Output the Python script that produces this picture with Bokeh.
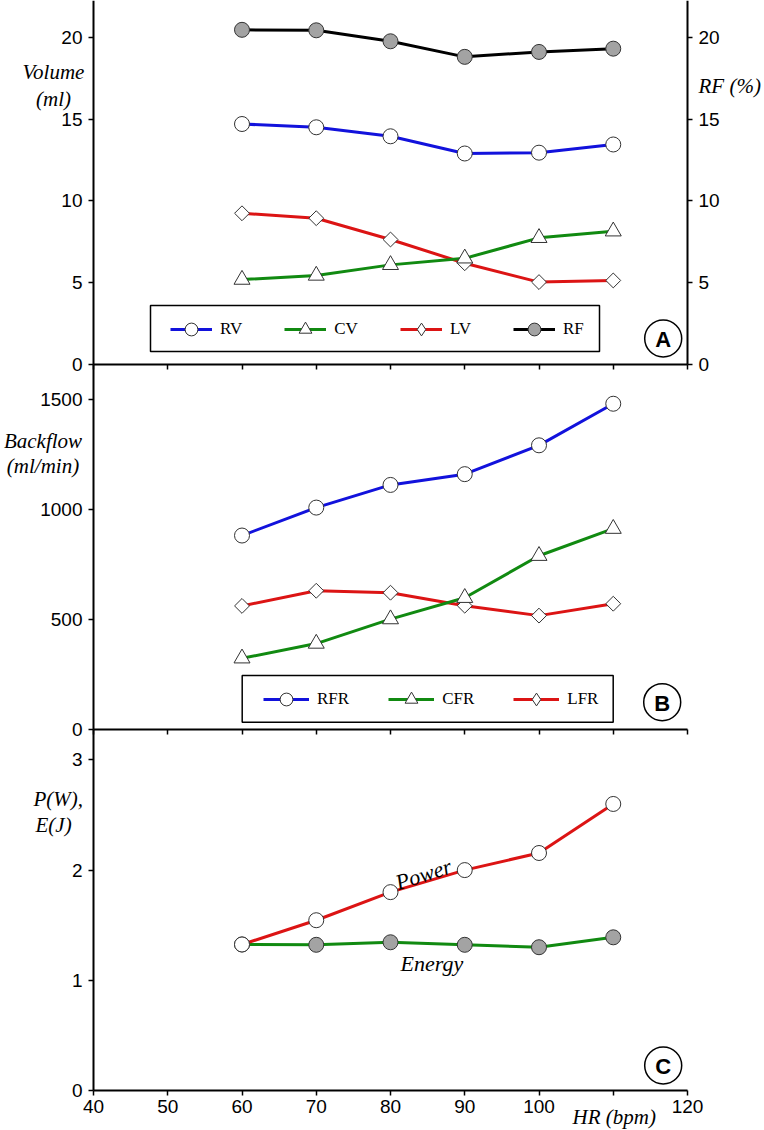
import math
from bokeh.plotting import figure
from bokeh.models import (Range1d, LinearAxis, Legend, LegendItem, Label,
                          FixedTicker, BoxAnnotation)
from bokeh.embed import file_html
from bokeh.resources import INLINE

# ---------------- data ----------------
hr = [60, 70, 80, 90, 100, 110]

rv = [14.7, 14.5, 13.95, 12.9, 12.95, 13.45]
cv = [5.2, 5.45, 6.1, 6.5, 7.75, 8.15]
lv = [9.25, 8.95, 7.65, 6.2, 5.05, 5.15]
rf = [20.45, 20.42, 19.75, 18.8, 19.1, 19.3]

rfr = [883, 1010, 1113, 1162, 1293, 1482]
cfr = [325, 392, 503, 600, 791, 914]
lfr = [563, 632, 623, 564, 519, 573]

power = [1.325, 1.545, 1.80, 2.0, 2.155, 2.60]
energy = [1.325, 1.322, 1.345, 1.322, 1.30, 1.39]

x_ticks = [40, 50, 60, 70, 80, 90, 100, 110, 120]
x_label_overrides = {110: ""}
vol_ticks = [0, 5, 10, 15, 20]
flow_ticks = [0, 500, 1000, 1500]
pe_ticks = [0, 1, 2, 3]

# ---------------- layout / style ----------------
W, H = 764, 1130
FRAME_L, FRAME_R = 93, 687          # pixel columns of the 40 / 120 axes
PPU = (FRAME_R - FRAME_L) / 80.0

# panel bands: (top px, bottom px, top value of the panel)
BANDS = {"A": (0.0, 364.3, 22.24),
         "B": (364.3, 729.3, 1659.0),
         "C": (729.3, 1090.0, 3.273)}

SANS = "Liberation Sans"
SERIF = "Liberation Serif"
TICK_FS = "19px"
TITLE_FS = "21px"

BLUE = "#1212dc"
GREEN = "#118a11"
RED = "#dc1414"
BLACK = "#000000"
GREY = "#a3a3a3"
EDGE = "#333333"


def band_range(name):
    t, b, e = BANDS[name]
    upp = e / (b - t)
    return Range1d(-(H - b) * upp, e + t * upp)


def px_to_val(name, py):
    t, b, e = BANDS[name]
    return (b - py) * e / (b - t)


def px_to_x(px):
    return 40 + (px - FRAME_L) / PPU


p = figure(width=W, height=H,
           x_range=Range1d(px_to_x(0), px_to_x(W)),
           y_range=band_range("C"),
           output_backend="svg", toolbar_location=None,
           x_axis_location=None, y_axis_location=None,
           min_border_left=0, min_border_right=0,
           min_border_top=0, min_border_bottom=0,
           outline_line_color=None, background_fill_color="white",
           border_fill_color="white")
p.extra_y_ranges = {"A": band_range("A"), "B": band_range("B")}
p.grid.visible = False

RN = {"A": "A", "B": "B", "C": "default"}


def add_axis(side, ticks, panel, loc, bounds, labels=True, overrides=None):
    ax = LinearAxis(ticker=FixedTicker(ticks=ticks, minor_ticks=[]),
                    fixed_location=loc, bounds=bounds, y_range_name=RN[panel])
    ax.axis_line_width = 2
    ax.axis_line_color = "black"
    ax.major_tick_line_width = 1.5
    ax.major_tick_line_color = "black"
    ax.major_tick_out = 5
    ax.major_tick_in = 0
    ax.minor_tick_line_color = None
    ax.major_label_text_font = SANS
    ax.major_label_text_font_size = TICK_FS
    ax.major_label_text_color = "black" if labels else None
    ax.major_label_standoff = 6 if side in ("left", "right") else 4
    if overrides:
        ax.major_label_overrides = overrides
    p.add_layout(ax, side)


# y axes
add_axis("left", vol_ticks, "A", 40, (0, BANDS["A"][2]))
add_axis("right", vol_ticks, "A", 120, (0, BANDS["A"][2]))
add_axis("left", flow_ticks, "B", 40, (0, BANDS["B"][2]))
add_axis("left", pe_ticks, "C", 40, (0, BANDS["C"][2]))
# x axes (panel separators + bottom axis)
add_axis("below", x_ticks, "A", 0, (40, 120), labels=False)
add_axis("below", x_ticks, "B", 0, (40, 120), labels=False)
add_axis("below", x_ticks, "C", 0, (40, 120), overrides=x_label_overrides)


def series_line(ys, color, panel):
    return p.line(hr, ys, line_color=color, line_width=3, y_range_name=RN[panel])


def series_marks(ys, marker, fill, size, panel, angle=0.0, visible=True):
    return p.scatter(hr, ys, marker=marker, size=size, angle=angle,
                     fill_color=fill, line_color=EDGE, line_width=1,
                     y_range_name=RN[panel], visible=visible)


def legend_box(panel, l_px, r_px, t_px, b_px):
    p.add_layout(BoxAnnotation(left=px_to_x(l_px), right=px_to_x(r_px),
                               top=px_to_val(panel, t_px), bottom=px_to_val(panel, b_px),
                               y_range_name=RN[panel], fill_color="white", fill_alpha=1,
                               line_color="black", line_alpha=1, line_width=1.5,
                               level="annotation"))


def legend(items, loc, glyph_w, spacing):
    lg = Legend(items=items, orientation="horizontal", location=loc, margin=0,
                padding=0, glyph_width=glyph_w, glyph_height=32, label_standoff=8,
                label_width=20, spacing=spacing, label_text_font=SERIF,
                label_text_font_size="17px", label_text_color="black",
                border_line_color=None, background_fill_alpha=0)
    p.add_layout(lg)


def title(text, panel, x, x_offset, y, align, size=TITLE_FS, angle=0.0):
    p.add_layout(Label(x=x, y=y, x_offset=x_offset, text=text, text_align=align,
                       text_baseline="alphabetic", text_font=SERIF,
                       text_font_style="italic", text_font_size=size,
                       text_color="black", angle=angle, y_range_name=RN[panel]))


def badge(letter, panel, cx_px, cy_px):
    bx, by = px_to_x(cx_px), px_to_val(panel, cy_px)
    p.scatter([bx], [by], marker="circle", size=37, fill_color="white",
              line_color="black", line_width=1.5, y_range_name=RN[panel])
    p.add_layout(Label(x=bx, y=by, y_offset=-1, text=letter, text_align="center",
                       text_baseline="middle", text_font=SANS, text_font_style="bold",
                       text_font_size="22px", text_color="black",
                       y_range_name=RN[panel]))


# ---------------- panel A ----------------
lA_rf = series_line(rf, BLACK, "A")
lA_rv = series_line(rv, BLUE, "A")
lA_lv = series_line(lv, RED, "A")
lA_cv = series_line(cv, GREEN, "A")
mA_rf = series_marks(rf, "circle", GREY, 15, "A")
mA_rv = series_marks(rv, "circle", "white", 15, "A")
series_marks(lv, "square", "white", 10.5, "A", math.pi / 4)
mA_cv = series_marks(cv, "triangle", "white", 16, "A")
# legend key for the diamonds (legend keys are drawn unrotated)
kA_lv = series_marks(lv, "diamond", "white", 15, "A", visible=False)

legend_box("A", 150, 599, 305, 351)
legend([LegendItem(label="RV", renderers=[lA_rv, mA_rv]),
        LegendItem(label="CV", renderers=[lA_cv, mA_cv]),
        LegendItem(label="LV", renderers=[lA_lv, kA_lv]),
        LegendItem(label="RF", renderers=[lA_rf, mA_rf])],
       (170, H - 345), 42, 42)

title("Volume", "A", 40, -40, px_to_val("A", 71.7), "center")
title("(ml)", "A", 40, -40, px_to_val("A", 98.3), "center")
title("RF (%)", "A", 120, 11, px_to_val("A", 85), "left")
badge("A", "A", 662.7, 338)

# ---------------- panel B ----------------
lB_rfr = series_line(rfr, BLUE, "B")
lB_lfr = series_line(lfr, RED, "B")
lB_cfr = series_line(cfr, GREEN, "B")
mB_rfr = series_marks(rfr, "circle", "white", 15, "B")
series_marks(lfr, "square", "white", 10.5, "B", math.pi / 4)
mB_cfr = series_marks(cfr, "triangle", "white", 16, "B")
kB_lfr = series_marks(lfr, "diamond", "white", 15, "B", visible=False)

legend_box("B", 241.7, 612.7, 675, 721.7)
legend([LegendItem(label="RFR", renderers=[lB_rfr, mB_rfr]),
        LegendItem(label="CFR", renderers=[lB_cfr, mB_cfr]),
        LegendItem(label="LFR", renderers=[lB_lfr, kB_lfr])],
       (263, H - 715), 46, 39)

title("Backflow", "B", 40, -50.5, px_to_val("B", 440), "center")
title("(ml/min)", "B", 40, -50.5, px_to_val("B", 465), "center")
badge("B", "B", 661.7, 701.7)

# ---------------- panel C ----------------
series_line(energy, GREEN, "C")
series_line(power, RED, "C")
series_marks(energy, "circle", GREY, 15, "C")
series_marks(power, "circle", "white", 15, "C")

title("P(W),", "C", 40, -60, px_to_val("C", 798.3), "left")
title("E(J)", "C", 40, -58, px_to_val("C", 824), "left")
title("Power", "C", px_to_x(395.7), 0, px_to_val("C", 882.7), "left", "22px", math.radians(18))
title("Energy", "C", px_to_x(400), 0, px_to_val("C", 963.3), "left", "22px")
title("HR (bpm)", "C", px_to_x(572), 0, px_to_val("C", 1116), "left", "21px")
badge("C", "C", 662.7, 1065)

open("out.html", "w").write(file_html(p, INLINE))
